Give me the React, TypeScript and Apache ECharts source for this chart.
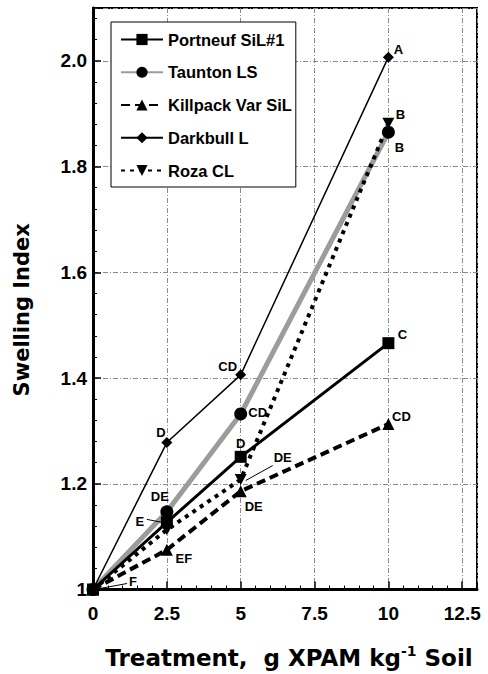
import React, { useEffect, useRef } from "react";
import * as echarts from "echarts";

// ---- data ----
const doses = [0, 2.5, 5, 10];
const portneuf = [1.0, 1.127, 1.251, 1.466];
const taunton = [1.0, 1.147, 1.332, 1.865];
const killpack = [1.0, 1.075, 1.186, 1.313];
const darkbull = [1.0, 1.278, 1.406, 2.007];
const roza = [1.0, 1.113, 1.208, 1.882];

const portneufLetters = ["F", "E", "D", "C"];
const tauntonLetters = ["", "DE", "CD", "B"];
const killpackLetters = ["", "EF", "DE", "CD"];
const darkbullLetters = ["", "D", "CD", "A"];
const rozaLetters = ["", "", "DE", "B"];

const seriesNames = ["Portneuf SiL#1", "Taunton LS", "Killpack Var SiL", "Darkbull L", "Roza CL"];
const xTickLabels = ["0", "2.5", "5", "7.5", "10", "12.5"];
const yTickLabels = ["1", "1.2", "1.4", "1.6", "1.8", "2.0"];

// ---- label placement (styling) ----
const FONT = "'Liberation Sans', Arial, Helvetica, sans-serif";
const TITLE_FONT = "'DejaVu Sans', 'Liberation Sans', Arial, sans-serif";
const portneufOffsets = [[40, -8], [-27, -1], [0, -13], [14, -9]];
const tauntonOffsets = [[0, 0], [-7, -15], [17, -1], [11, 15]];
const killpackOffsets = [[0, 0], [17, 9], [13, 15], [13, -8]];
const darkbullOffsets = [[0, 0], [-6, -10], [-13, -8], [10, -8]];
const rozaOffsets = [[0, 0], [0, 0], [42, -22], [12, -9]];

function buildData(vals: number[], letters: string[], offsets: number[][]) {
  return doses.map((d, i) => ({
    value: [d, vals[i]],
    label: letters[i]
      ? {
          show: true,
          formatter: letters[i],
          position: "inside",
          offset: offsets[i],
          color: "#000",
          fontSize: 13,
          fontWeight: "bold",
          fontFamily: FONT,
        }
      : { show: false },
  }));
}

export default function App() {
  const ref = useRef<HTMLDivElement>(null);

  useEffect(() => {
    if (!ref.current) return;
    const chart = echarts.init(ref.current, undefined, { renderer: "svg" });

    const base = {
      type: "line",
      showAllSymbol: true,
      itemStyle: { color: "#000" },
      emphasis: { disabled: true },
    };

    const series: any[] = [
      {
        ...base,
        name: seriesNames[1],
        symbol: "circle",
        symbolSize: 13,
        lineStyle: { color: "#9c9c9c", width: 5 },
        data: buildData(taunton, tauntonLetters, tauntonOffsets),
      },
      {
        ...base,
        name: seriesNames[3],
        symbol: "diamond",
        symbolSize: 11,
        lineStyle: { color: "#000", width: 1.5 },
        data: buildData(darkbull, darkbullLetters, darkbullOffsets),
      },
      {
        ...base,
        name: seriesNames[2],
        symbol: "triangle",
        symbolSize: 12,
        lineStyle: { color: "#000", width: 4, type: [9, 5] },
        data: buildData(killpack, killpackLetters, killpackOffsets),
      },
      {
        ...base,
        name: seriesNames[4],
        symbol: "path://M0,0L10,0L5,9Z",
        symbolSize: [12, 11],
        lineStyle: { color: "#000", width: 4, type: [4, 5] },
        data: buildData(roza, rozaLetters, rozaOffsets),
      },
      {
        ...base,
        name: seriesNames[0],
        symbol: "rect",
        symbolSize: 12,
        lineStyle: { color: "#000", width: 3 },
        data: buildData(portneuf, portneufLetters, portneufOffsets),
      },
    ];

    const gridLine = { show: true, lineStyle: { color: "#8a8a8a", width: 1, type: [5, 2, 1, 2] } };

    chart.setOption({
      animation: false,
      backgroundColor: "#fff",
      grid: {
        left: 93,
        right: 11,
        top: 8,
        bottom: 83,
        show: true,
        borderColor: "#000",
        borderWidth: 2,
        backgroundColor: "transparent",
      },
      legend: {
        data: seriesNames,
        orient: "vertical",
        left: 111,
        top: 22,
        itemWidth: 42,
        itemHeight: 14,
        itemGap: 15.75,
        padding: [9, 4, 8, 9],
        backgroundColor: "#fff",
        borderColor: "#000",
        borderWidth: 1,
        selectedMode: false,
        textStyle: { fontSize: 16.5, fontWeight: "bold", color: "#000", fontFamily: FONT, lineHeight: 14 },
      },
      xAxis: {
        type: "value",
        min: 0,
        max: 13,
        interval: 2.5,
        axisLine: { show: true, onZero: false, lineStyle: { color: "#000", width: 3 } },
        axisTick: { show: true, inside: true, length: 8, lineStyle: { color: "#000", width: 1.5 } },
        minorTick: { show: true, splitNumber: 5, length: 4, lineStyle: { color: "#000", width: 1 } },
        splitLine: gridLine,
        axisLabel: {
          showMaxLabel: false,
          formatter: (v: number) => {
            const i = Math.round(v / 2.5);
            return Math.abs(v - i * 2.5) < 1e-6 && xTickLabels[i] !== undefined ? xTickLabels[i] : "";
          },
          fontSize: 19,
          fontWeight: "bold",
          color: "#000",
          margin: 14,
          fontFamily: FONT,
        },
        name: "{a|Treatment,  g XPAM kg}{s|-1}{a| Soil}",
        nameLocation: "middle",
        nameGap: 54,
        nameTextStyle: {
          padding: [0, 0, 0, 8],
          rich: {
            a: { fontSize: 23, fontWeight: "bold", color: "#000", fontFamily: TITLE_FONT, lineHeight: 28 },
            s: { fontSize: 14, fontWeight: "bold", color: "#000", fontFamily: TITLE_FONT, lineHeight: 14, verticalAlign: "top" },
          },
        },
      },
      yAxis: {
        type: "value",
        min: 1,
        max: 2.1,
        interval: 0.2,
        axisLine: { show: true, onZero: false, lineStyle: { color: "#000", width: 3 } },
        axisTick: { show: true, inside: true, length: 8, lineStyle: { color: "#000", width: 1.5 } },
        minorTick: { show: true, splitNumber: 5, length: 4, lineStyle: { color: "#000", width: 1 } },
        splitLine: gridLine,
        axisLabel: {
          showMaxLabel: false,
          formatter: (v: number) => {
            const i = Math.round((v - 1) / 0.2);
            return Math.abs(v - 1 - i * 0.2) < 1e-6 && yTickLabels[i] !== undefined ? yTickLabels[i] : "";
          },
          fontSize: 19,
          fontWeight: "bold",
          color: "#000",
          margin: 6,
          fontFamily: FONT,
        },
        name: "Swelling Index",
        nameLocation: "middle",
        nameGap: 61,
        nameTextStyle: { fontSize: 21, fontWeight: "bold", color: "#000", fontFamily: TITLE_FONT, padding: [0, 22, 0, 0] },
      },
      series,
    });

    // leader lines for a few letter labels
    const seriesVals = [portneuf, taunton, killpack, darkbull, roza];
    const leaders = [
      { s: 0, i: 0, from: [34, -6], to: [7, -1] },
      { s: 0, i: 1, from: [-20, -3], to: [-5, 0] },
      { s: 4, i: 2, from: [32, -14], to: [5, 1] },
    ];
    chart.setOption({
      graphic: leaders.map((l) => {
        const p = chart.convertToPixel({ gridIndex: 0 }, [doses[l.i], seriesVals[l.s][l.i]]) as number[];
        return {
          type: "line",
          z: 100,
          shape: { x1: p[0] + l.from[0], y1: p[1] + l.from[1], x2: p[0] + l.to[0], y2: p[1] + l.to[1] },
          style: { stroke: "#000", lineWidth: 1 },
        };
      }),
    });

    return () => chart.dispose();
  }, []);

  return <div ref={ref} style={{ position: "fixed", left: 0, top: 0, width: 488, height: 674 }} />;
}
